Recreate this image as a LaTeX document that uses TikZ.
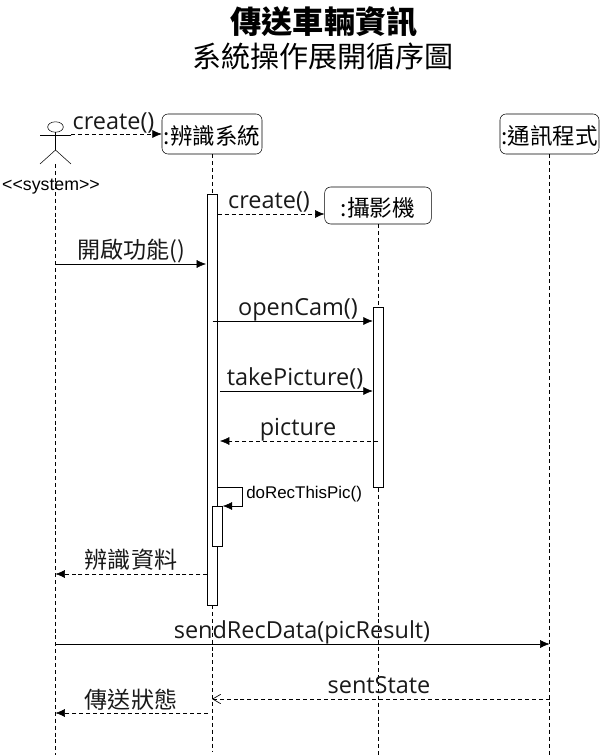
\documentclass[tikz,border=0pt]{standalone}
\usepackage{fontspec}
\setmainfont{Open Sans}
\newfontfamily\cjk{Noto Sans CJK TC}
\newfontfamily\arial{Liberation Sans}
\usetikzlibrary{arrows.meta}
\tikzset{
  x=0.75pt,y=-0.75pt,
  line width=0.75pt,
  obj/.style={draw,rounded corners=4.5pt,fill=white,inner sep=0pt,align=center},
  bar/.style={draw,fill=white,inner sep=0pt,minimum width=7.5pt},
  lifeline/.style={dashed,dash pattern=on 3pt off 2.2pt},
  msg/.style={-{Latex[length=7pt,width=6pt]}},
  ret/.style={msg,lifeline},
  oret/.style={lifeline,-{Straight Barb[length=6pt,width=7pt,line width=0.5pt]}},
  lab/.style={inner sep=0pt,font=\fontsize{17.6}{20}\selectfont,text=black!90},
  cjklab/.style={inner sep=0pt,font=\cjk\fontsize{17.3}{20}\selectfont,text=black!90},
}
\begin{document}
\begin{tikzpicture}
\useasboundingbox (0,0) rectangle (600,755);
% titles
\node[inner sep=0pt] (t1) at (324,22) {\cjk\fontsize{23.4}{26}\selectfont\bfseries 傳送車輛資訊};
\node[inner sep=0pt] (t2) at (323,56) {\cjk\fontsize{21.8}{26}\selectfont 系統操作展開循序圖};
% actor
\draw (55.5,127) ellipse [x radius=7.8,y radius=5.2];
\draw (55.5,132.2) -- (55.5,150) (40,135.5) -- (71,135.5) (40,164) -- (55.5,150) -- (71,164);
\coordinate (actTop) at (55.5,164);
\coordinate (actEnd) at (55.5,755);
\node[inner sep=0pt] (sys) at (51,187) {\arial\fontsize{13.3}{15}\selectfont <<system>>};
% objects
\node[obj,minimum width=75pt,minimum height=30pt,font=\cjk\fontsize{16.9}{18}\selectfont] (rec) at (212,134) {\raisebox{-8.2pt}[0pt][0pt]{:辨識系統}};
\node[obj,minimum width=80pt,minimum height=27.75pt,font=\cjk\fontsize{17}{18}\selectfont] (cam) at (378,205.5) {\raisebox{-8pt}[0pt][0pt]{:攝影機}};
\node[obj,minimum width=74.25pt,minimum height=30pt,font=\cjk\fontsize{16.9}{18}\selectfont] (com) at (549.5,134) {\raisebox{-8.2pt}[0pt][0pt]{:通訊程式}};
% lifeline ends
\coordinate (recEnd) at (212,752);
\coordinate (camEnd) at (378,755);
\coordinate (comEnd) at (549.5,755);
\draw[lifeline] (actTop) -- (actEnd);
\draw[lifeline] (rec) -- (recEnd);
\draw[lifeline] (cam) -- (camEnd);
\draw[lifeline] (com) -- (comEnd);
% activations
\node[bar,minimum height=308.25pt] (a1) at (212.5,399.5) {};
\node[bar,minimum height=135pt] (a2) at (378,397) {};
\node[bar,minimum height=30pt] (a3) at (217.5,526) {};
% messages
\draw[ret] (71,134) coordinate (m1s) -- (rec.west |- m1s);
\node[lab,anchor=base] at (113.5,130) {create()};
\draw[ret] (a1.east |- 0,214) -- (cam.west |- 0,214);
\node[lab,anchor=base] at (269,208.5) {create()};
\draw[msg] (actTop |- 0,264) -- (206,264) coordinate (m3e);
\node[cjklab,anchor=base] at (131,258.5) {開啟功能()};
\draw[msg] (a1.center |- 0,321) -- (a2.west |- 0,321);
\node[lab,anchor=base] at (298,315) {openCam()};
\draw[msg] (a1.east |- 0,391) ++(2,0) -- (a2.west |- 0,391);
\node[lab,anchor=base] at (295,385) {takePicture()};
\draw[ret] (a2.center |- 0,441) -- (220,441);
\node[lab,anchor=base] at (298,435) {picture};
\draw[msg] (a1.east |- 0,487) -- (242,487) -- (242,506) -- (a3.east |- 0,506);
\node[inner sep=0pt,anchor=west] at (246,494) {\arial\fontsize{12.7}{14}\selectfont doRecThisPic()};
\draw[ret] (a1.west |- 0,574) -- (actTop |- 0,574);
\node[cjklab,anchor=base] at (131,568.5) {辨識資料};
\draw[msg] (actTop |- 0,644) -- (com |- 0,644);
\node[lab,anchor=base] at (302,638) {sendRecData(picResult)};
\draw[oret] (com |- 0,699) -- (rec |- 0,699);
\node[lab,anchor=base] at (379,693) {sentState};
\draw[ret] (208,713) -- (actTop |- 0,713);
\node[cjklab,anchor=base] at (131,708) {傳送狀態};
\end{tikzpicture}
\end{document}
